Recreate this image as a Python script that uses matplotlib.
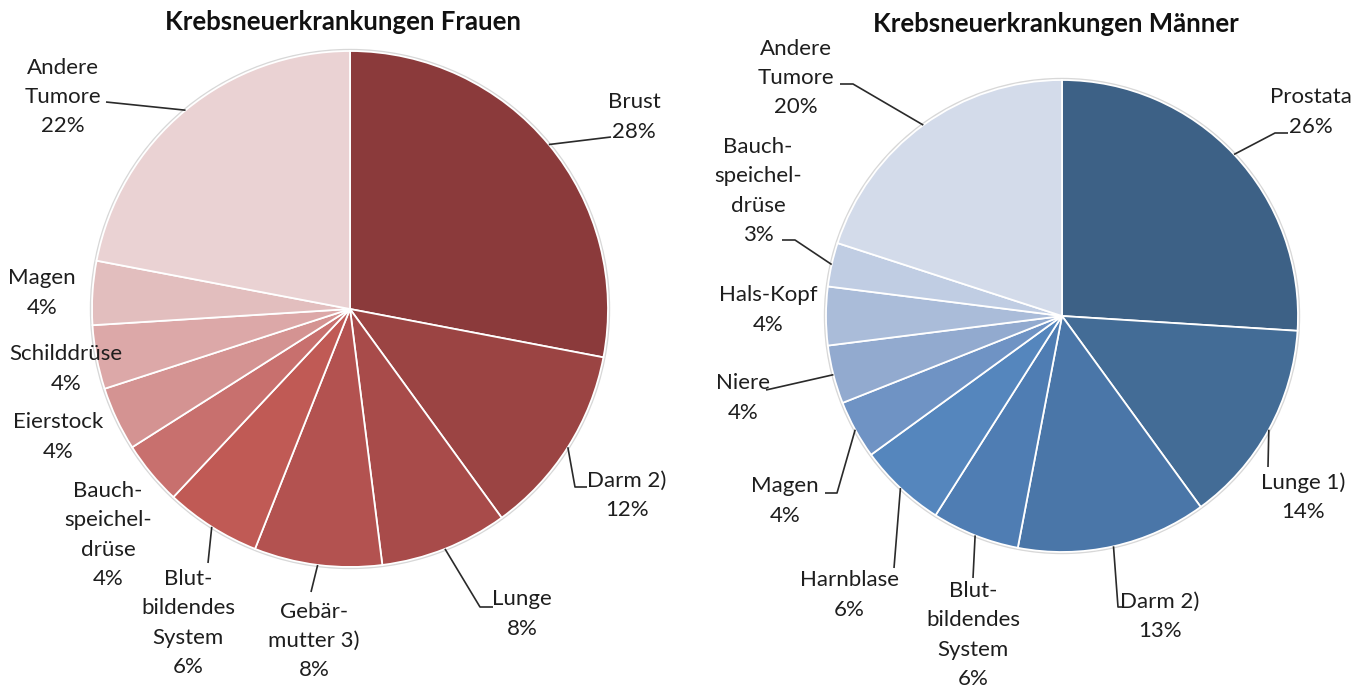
import numpy as np
import matplotlib
matplotlib.use('Agg')
import matplotlib.pyplot as plt

W, H = 1365, 686

# Frauen
labels_f = ['Brust', 'Darm 2)', 'Lunge', 'Gebär-\nmutter 3)', 'Blut-\nbildendes\nSystem',
            'Bauch-\nspeichel-\ndrüse', 'Eierstock', 'Schilddrüse', 'Magen', 'Andere\nTumore']
values_f = [28, 12, 8, 8, 6, 4, 4, 4, 4, 22]
colors_f = ['#8b3a3b', '#9b4443', '#a84b4a', '#b35250', '#c05a55',
            '#c8706e', '#d49392', '#dca8a8', '#e2bebe', '#ead2d3']

# Maenner
labels_m = ['Prostata', 'Lunge 1)', 'Darm 2)', 'Blut-\nbildendes\nSystem', 'Harnblase',
            'Magen', 'Niere', 'Hals-Kopf', 'Bauch-\nspeichel-\ndrüse', 'Andere\nTumore']
values_m = [26, 14, 13, 6, 6, 4, 4, 4, 3, 20]
colors_m = ['#3d6186', '#436c96', '#4a76a8', '#4f7db3', '#5586bd',
            '#6f93c4', '#92aacf', '#aabcd9', '#c0cde3', '#d3dbea']

# label layout in pixel coords: text centre, leader points near the text (None = no leader)
layout_f = [((634, 117), [(611, 137)]),
            ((627, 495), [(587, 487), (575, 487)]),
            ((522, 614), [(493, 607), (480, 607)]),
            ((314, 641), [(311, 592)]),
            ((188, 623), [(208, 563)]),
            ((108, 535), None),
            ((58, 437), None),
            ((66, 369), None),
            ((42, 293), None),
            ((63, 97), [(106, 102)])]
layout_m = [((1311, 112), [(1288, 133), (1275, 133)]),
            ((1303, 497), [(1268, 467)]),
            ((1160, 616), [(1124, 607), (1118, 607)]),
            ((973, 635), [(973, 578)]),
            ((849, 595), [(894, 568)]),
            ((785, 501), [(825, 493), (837, 493)]),
            ((743, 398), [(766, 390)]),
            ((768, 310), None),
            ((758, 191), [(782, 240), (795, 240)]),
            ((796, 78), [(840, 84), (853, 84)])]

plt.rcParams['font.family'] = ['Lato', 'DejaVu Sans']
fig = plt.figure(figsize=(W / 100, H / 100), dpi=100)
ax = fig.add_axes([0, 0, 1, 1])


def draw_pie(values, labels, colors, layout, cx, cy, r, title, tx, ty):
    # soft rim
    ax.add_patch(plt.Circle((cx, H - cy), r + 1.5, color='#d8d8d8', zorder=0))
    wedges, _ = ax.pie(values, colors=colors, center=(cx, H - cy), radius=r,
                       startangle=90, counterclock=False, frame=True,
                       wedgeprops=dict(edgecolor='white', linewidth=1.3))
    for w, lab, val, (tpos, pts) in zip(wedges, labels, values, layout):
        ax.text(tpos[0], H - tpos[1], f'{lab}\n{val}%', ha='center', va='center',
                multialignment='center', fontsize=16, color='#1e1e1e', linespacing=1.57)
        if pts is None:
            continue
        ang = np.deg2rad((w.theta1 + w.theta2) / 2)
        sx = cx + r * np.cos(ang)
        sy = H - cy + r * np.sin(ang)
        xs = [sx] + [p[0] for p in pts[::-1]]
        ys = [sy] + [H - p[1] for p in pts[::-1]]
        ax.plot(xs, ys, color='#2a2a2a', lw=1.2, solid_capstyle='butt')
    ax.text(tx, H - ty, title, ha='center', va='center', fontsize=18.5,
            fontweight='bold', color='#111111')


draw_pie(values_f, labels_f, colors_f, layout_f, 350, 309, 258,
         'Krebsneuerkrankungen Frauen', 343, 22)
draw_pie(values_m, labels_m, colors_m, layout_m, 1062, 316, 236,
         'Krebsneuerkrankungen Männer', 1056, 24)

ax.set_xlim(0, W)
ax.set_ylim(0, H)
ax.set_aspect('auto')
ax.axis('off')
fig.savefig('out.png', dpi=100)
